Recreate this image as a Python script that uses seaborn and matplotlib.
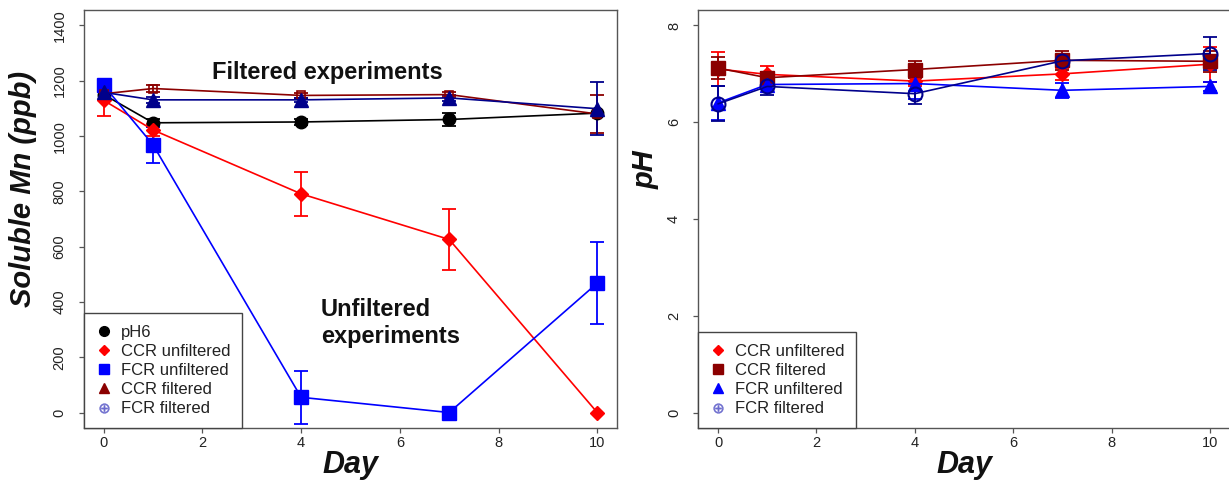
import numpy as np
import pandas as pd
import matplotlib
matplotlib.use("Agg")
import matplotlib.pyplot as plt
from matplotlib.lines import Line2D
import seaborn as sns

# ---- sampling days ----
days = [0, 1, 4, 7, 10]

# ---- soluble Mn (ppb) ----
mn_ph6 = [1150, 1048, 1051, 1060, 1083]
mn_ph6_err = [0, 15, 10, 25, 0]
mn_ccr_unf = [1129, 1022, 791, 626, 0]
mn_ccr_unf_err = [55, 20, 80, 110, 0]
mn_fcr_unf = [1183, 968, 55, 0, 468]
mn_fcr_unf_err = [0, 65, 95, 0, 148]
mn_ccr_filt = [1153, 1172, 1147, 1150, 1080]
mn_ccr_filt_err = [0, 14, 8, 10, 68]
mn_fcr_filt = [1158, 1131, 1131, 1138, 1099]
mn_fcr_filt_err = [0, 12, 8, 10, 96]

# ---- pH ----
ph_ccr_unf = [7.10, 6.99, 6.85, 7.00, 7.20]
ph_ccr_unf_err = [0.36, 0.18, 0.10, 0.12, 0.36]
ph_ccr_filt = [7.12, 6.92, 7.09, 7.28, 7.26]
ph_ccr_filt_err = [0.23, 0.12, 0.18, 0.20, 0.22]
ph_fcr_unf = [6.40, 6.78, 6.80, 6.66, 6.74]
ph_fcr_unf_err = [0.35, 0.10, 0.32, 0.16, 0.09]
ph_fcr_filt = [6.38, 6.74, 6.59, 7.27, 7.42]
ph_fcr_filt_err = [0.36, 0.18, 0.21, 0.05, 0.34]

RED = "#FF0000"
BLUE = "#0000FF"
DARKRED = "#8B0000"
NAVY = "#00008B"
SLATE = "#6A6ACD"

sns.set_style("white")
plt.rcParams["font.family"] = ["Liberation Sans", "DejaVu Sans"]

fig = plt.figure(figsize=(12.29, 4.83), dpi=100)
ax1 = fig.add_axes([0.06835, 0.11387, 0.43369, 0.86542])
ax2 = fig.add_axes([0.5682, 0.11387, 0.4324, 0.86542])


def series(ax, y, err, color, marker, ms, mfc=None, mew=1.0, lw=1.2):
    d = np.array(days, dtype=float)
    y = np.array(y, dtype=float)
    e = np.array(err, dtype=float)
    keep = e > 0
    if keep.any():
        ax.errorbar(d[keep], y[keep], yerr=e[keep], fmt="none", ecolor=color,
                    elinewidth=1.3, capsize=5, capthick=1.3, zorder=2)
    df = pd.DataFrame({"day": d, "value": y})
    sns.lineplot(data=df, x="day", y="value", ax=ax, color=color, lw=lw,
                 marker=marker, markersize=ms, markeredgecolor=color,
                 markerfacecolor=color if mfc is None else mfc,
                 markeredgewidth=mew, zorder=3, legend=False)


# left panel: soluble Mn
series(ax1, mn_ph6, mn_ph6_err, "black", "o", 9)
series(ax1, mn_ccr_unf, mn_ccr_unf_err, RED, "D", 7)
series(ax1, mn_fcr_unf, mn_fcr_unf_err, BLUE, "s", 10)
series(ax1, mn_ccr_filt, mn_ccr_filt_err, DARKRED, "s", 6, mfc="none", mew=1.2)
series(ax1, mn_fcr_filt, mn_fcr_filt_err, NAVY, "^", 10)

# right panel: pH
series(ax2, ph_ccr_unf, ph_ccr_unf_err, RED, "D", 7)
series(ax2, ph_ccr_filt, ph_ccr_filt_err, DARKRED, "s", 10)
series(ax2, ph_fcr_unf, ph_fcr_unf_err, BLUE, "^", 10)
series(ax2, ph_fcr_filt, ph_fcr_filt_err, NAVY, "o", 10, mfc="none", mew=1.5)

label_font = dict(fontsize=21, fontweight="bold", fontstyle="italic",
                  color="#111111")

for ax in (ax1, ax2):
    ax.set_xlim(-0.4, 10.4)
    ax.set_xticks([0, 2, 4, 6, 8, 10])
    for s in ax.spines.values():
        s.set_color("#555555")
        s.set_linewidth(1.0)
    ax.tick_params(direction="out", length=3.5, width=0.9, color="#555555",
                   labelcolor="#222222", labelsize=10.5, left=True, bottom=True)
    ax.tick_params(axis="x", pad=2.5)
    ax.tick_params(axis="y", pad=9)
    ax.set_xlabel("Day", fontsize=22, fontweight="bold", fontstyle="italic",
                  color="#111111", labelpad=0)

ax1.set_ylim(-56, 1456)
ax1.set_yticks(range(0, 1401, 200))
ax1.set_ylabel("Soluble Mn (ppb)", **label_font)
ax1.yaxis.set_label_coords(-0.088, 0.572)

ax2.set_ylim(-0.32, 8.32)
ax2.set_yticks([0, 2, 4, 6, 8])
ax2.set_ylabel("pH", **label_font)
ax2.yaxis.set_label_coords(-0.072, 0.617)

for ax in (ax1, ax2):
    for lab in ax.get_yticklabels():
        lab.set_rotation(90)
        lab.set_va("center")

ax1.text(4.54, 1208, "Filtered experiments", fontsize=17, fontweight="bold",
         ha="center", va="baseline", color="#111111")
ax1.text(4.40, 348, "Unfiltered", fontsize=17, fontweight="bold",
         ha="left", va="baseline", color="#111111")
ax1.text(4.40, 250, "experiments", fontsize=17, fontweight="bold",
         ha="left", va="baseline", color="#111111")


def handle(marker, color, ms, mfc=None, mew=1.0):
    return Line2D([], [], ls="none", marker=marker, color=color,
                  markersize=ms, markerfacecolor=color if mfc is None else mfc,
                  markeredgewidth=mew)


h1 = [handle("o", "black", 7), handle("D", RED, 5), handle("s", BLUE, 7),
      handle("^", DARKRED, 7), handle(r"$\oplus$", SLATE, 7, mew=0.3)]
l1 = ["pH6", "CCR unfiltered", "FCR unfiltered", "CCR filtered", "FCR filtered"]
h2 = [handle("D", RED, 5), handle("s", DARKRED, 7), handle("^", BLUE, 7),
      handle(r"$\oplus$", SLATE, 7, mew=0.3)]
l2 = ["CCR unfiltered", "CCR filtered", "FCR unfiltered", "FCR filtered"]

for ax, h, l in ((ax1, h1, l1), (ax2, h2, l2)):
    leg = ax.legend(h, l, loc="lower left", borderaxespad=0, fontsize=12,
                    frameon=True, fancybox=False, framealpha=1,
                    edgecolor="#444444", handlelength=1.0, handletextpad=0.5,
                    labelspacing=0.25, borderpad=0.7)
    leg.get_frame().set_linewidth(1.0)
    for t in leg.get_texts():
        t.set_color("#222222")

fig.savefig("out.png", dpi=100)
